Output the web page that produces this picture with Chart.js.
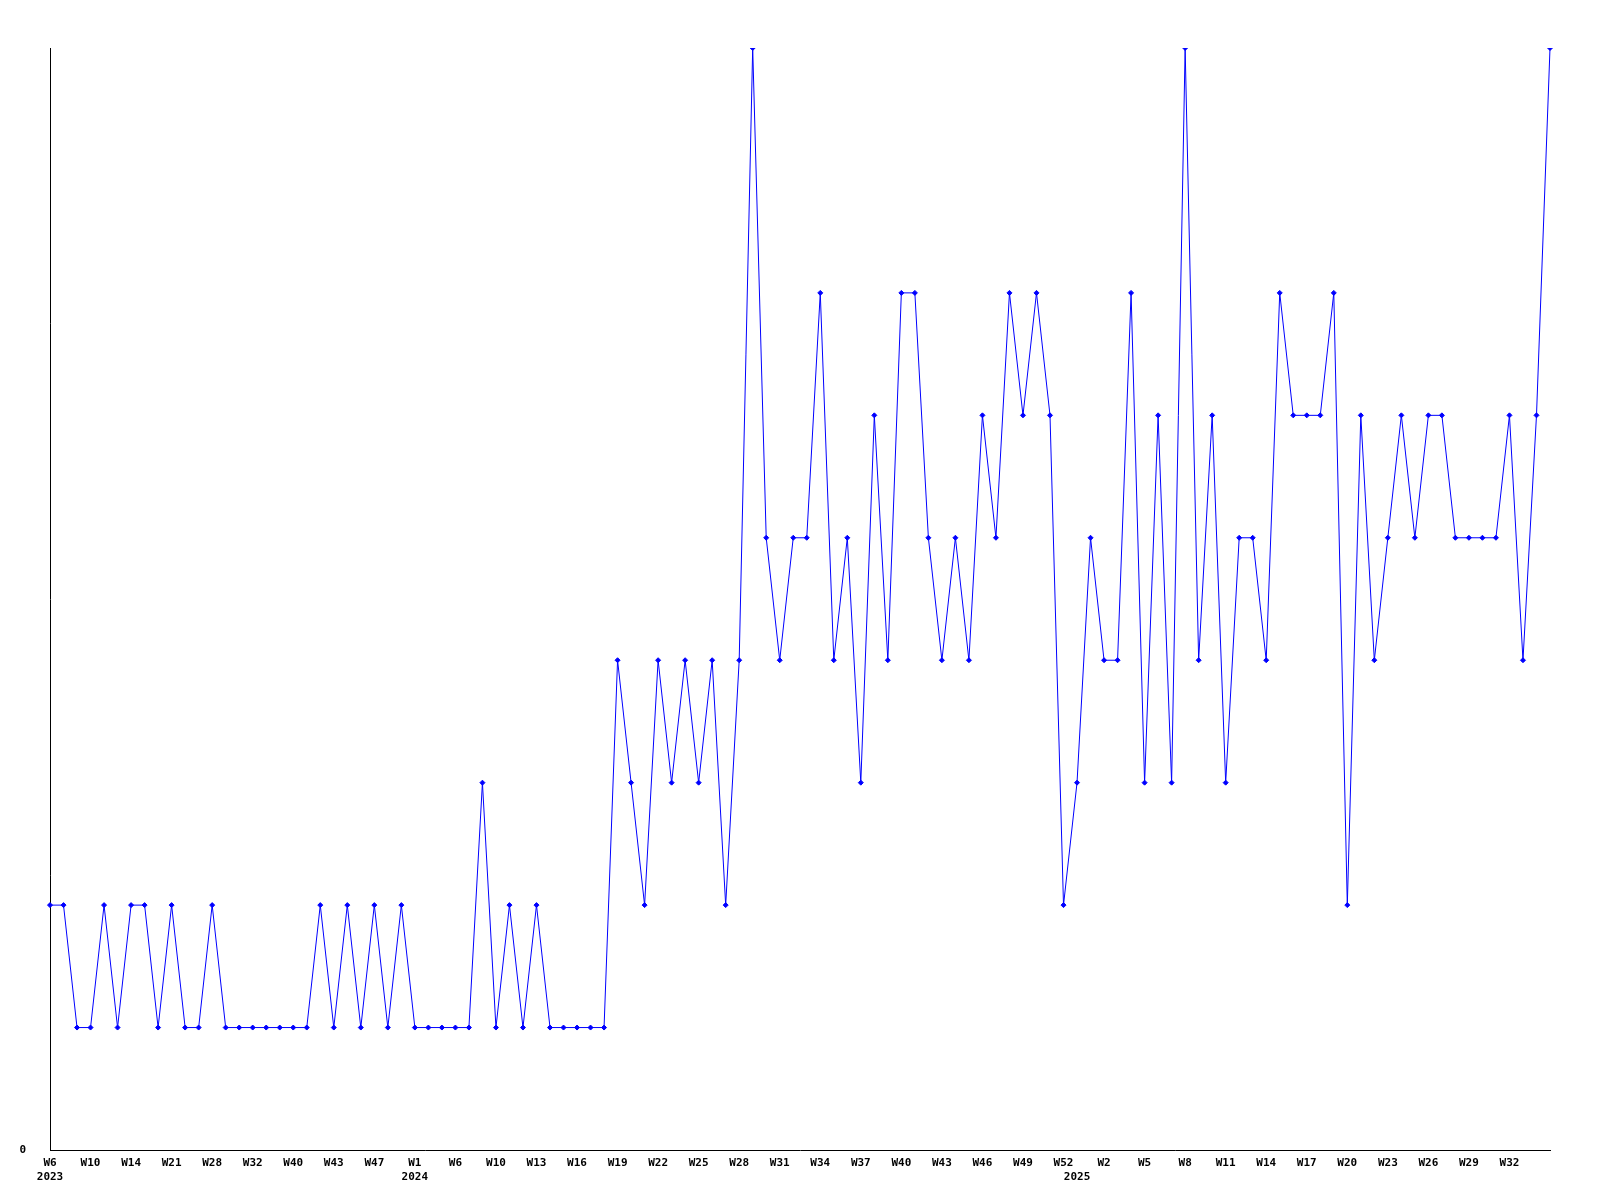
<!DOCTYPE html>
<html>
<head>
<meta charset="utf-8">
<script src="https://cdn.jsdelivr.net/npm/chart.js@4/dist/chart.umd.min.js"></script>
<style>
  body { margin: 0; background: #fff; }
  #wrap { width: 1600px; height: 1200px; }
</style>
</head>
<body>
<div id="wrap"><canvas id="myChart" width="1600" height="1200"></canvas></div>
<script>
// week categories per year
const years = ['2023', '2024', '2025'];
const weeks2023 = ['W6','W8','W9','W10','W12','W13','W14','W17','W19','W21','W24','W26','W28','W30','W31',
  'W32','W35','W38','W40','W41','W42','W43','W45','W46','W47','W49','W51'];
const weeks2024 = ['W1','W3','W4','W6','W8','W9','W10','W11','W12','W13','W14','W15','W16','W17','W18',
  'W19','W20','W21','W22','W23','W24','W25','W26','W27','W28','W29','W30','W31','W32','W33','W34',
  'W35','W36','W37','W38','W39','W40','W41','W42','W43','W44','W45','W46','W47','W48','W49','W50',
  'W51','W52'];
const weeks2025 = ['W0','W1','W2','W3','W4','W5','W6','W7','W8','W9','W10','W11','W12','W13','W14',
  'W15','W16','W17','W18','W19','W20','W21','W22','W23','W24','W25','W26','W27','W28','W29','W30',
  'W31','W32','W33','W34','W35'];

// series values
const counts = [
  2,2,1,1,2,1,2,2,1,2,
  1,1,2,1,1,1,1,1,1,1,
  2,1,2,1,2,1,2,1,1,1,
  1,1,3,1,2,1,2,1,1,1,
  1,1,4,3,2,4,3,4,3,4,
  2,4,9,5,4,5,5,7,4,5,
  3,6,4,7,7,5,4,5,4,6,
  5,7,6,7,6,2,3,5,4,4,
  7,3,6,3,9,4,6,3,5,5,
  4,7,6,6,6,7,2,6,4,5,
  6,5,6,6,5,5,5,5,6,4,
  6,9
];

const labels = weeks2023.concat(weeks2024, weeks2025);
// index where each year starts
const yearStart = [0, weeks2023.length, weeks2023.length + weeks2024.length];

const data = {
  labels: labels,
  datasets: [{
    label: 'count',
    data: counts,
    borderColor: '#0000ff',
    backgroundColor: '#0000ff',
    borderWidth: 1,
    tension: 0,
    pointStyle: 'rectRot',
    pointRadius: 2.5,
    pointBorderWidth: 1
  }]
};

const tickFont = { family: 'DejaVu Sans Mono', size: 11, weight: 'bold', lineHeight: 1.2 };

const config = {
  type: 'line',
  data: data,
  options: {
    responsive: false,
    animation: false,
    layout: { padding: { top: 48, right: 50, bottom: 0, left: 0 } },
    plugins: {
      legend: { display: false },
      title: { display: false }
    },
    scales: {
      x: {
        offset: false,
        grid: { display: false, drawTicks: false },
        border: { display: true, color: '#000', width: 1 },
        ticks: {
          autoSkip: false,
          maxRotation: 0,
          padding: 7,
          color: '#000',
          font: tickFont,
          callback: function (val, i) {
            const y = yearStart.indexOf(i);
            // every 3rd week, last one left off
            const name = (i % 3 === 0 && i < labels.length - 1) ? labels[i] : '';
            if (y >= 0) return [name, years[y]];
            return name;
          }
        },
        afterFit: function (s) { s.height = 50; }
      },
      y: {
        min: 0,
        max: 9,
        grid: { display: false, drawTicks: false },
        border: { display: true, color: '#000', width: 1 },
        ticks: {
          stepSize: 9,
          padding: 24,
          color: '#000',
          font: tickFont,
          callback: function (v) { return v === 0 ? '0' : ''; }
        },
        afterFit: function (s) { s.width = 50; }
      }
    }
  }
};

const myChart = new Chart(document.getElementById('myChart'), config);
</script>
</body>
</html>
